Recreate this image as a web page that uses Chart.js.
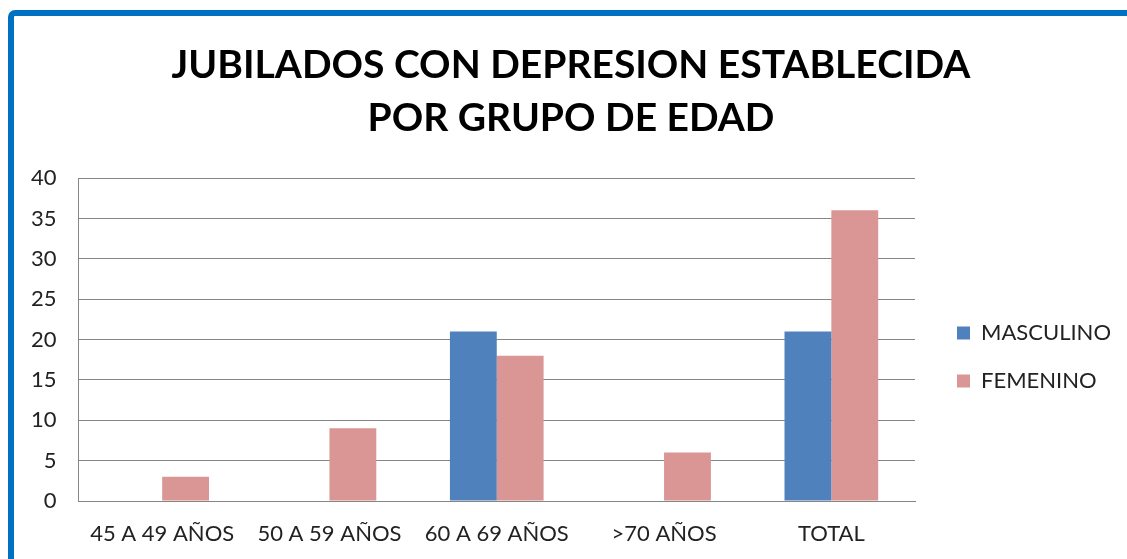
<!DOCTYPE html>
<html>
<head>
<meta charset="utf-8">
<script src="https://cdn.jsdelivr.net/npm/chart.js@4"></script>
<style>
  html, body { margin: 0; padding: 0; background: #fff; overflow: hidden; }
  #frame { position: absolute; left: 8px; top: 10px; width: 1200px; height: 700px;
           border-left: 6px solid #0070C0; border-top: 6px solid #0070C0;
           border-top-left-radius: 7px; }
  #wrap { position: absolute; left: 0; top: 0; width: 1127px; height: 559px; }
</style>
</head>
<body>
<div id="frame"></div>
<div id="wrap"><canvas id="c"></canvas></div>
<script>
"use strict";
const categories = ["45 A 49 AÑOS", "50 A 59 AÑOS", "60 A 69 AÑOS", ">70 AÑOS", "TOTAL"];
const masculino = [0, 0, 21, 0, 21];
const femenino = [3, 9, 18, 6, 36];
const yTicks = [0, 5, 10, 15, 20, 25, 30, 35, 40];

const font = "Lato, 'Open Sans', sans-serif";

// nudge the legend and title to where the original puts them
const nudge = {
  id: "nudge",
  afterLayout(chart) {
    const lg = chart.legend;
    lg.left += 16; lg.right += 16;
    lg.top += 63; lg.bottom += 63;
    const t = chart.titleBlock;
    t.left += 14; t.right += 14;
  }
};

new Chart(document.getElementById("c").getContext("2d"), {
  type: "bar",
  data: {
    labels: categories,
    datasets: [
      { label: "MASCULINO", data: masculino, backgroundColor: "#4F81BD", borderWidth: 0 },
      { label: "FEMENINO", data: femenino, backgroundColor: "#D99694", borderWidth: 0 }
    ]
  },
  plugins: [nudge],
  options: {
    responsive: true,
    maintainAspectRatio: false,
    animation: false,
    layout: { padding: { left: 9, right: 22, top: 39, bottom: 10 } },
    datasets: { bar: { categoryPercentage: 0.56, barPercentage: 1.0 } },
    plugins: {
      title: {
        display: true,
        text: ["JUBILADOS CON DEPRESION ESTABLECIDA", "POR GRUPO DE EDAD"],
        color: "#000",
        font: { family: font, size: 39, weight: "bold", lineHeight: 1.36 },
        padding: { top: 0, bottom: 33 }
      },
      legend: {
        position: "right",
        labels: {
          color: "#222",
          font: { family: font, size: 22 },
          boxWidth: 13,
          boxHeight: 13,
          padding: 26
        }
      },
      tooltip: { enabled: false }
    },
    scales: {
      x: {
        afterFit: axis => { axis.height = 48; },
        grid: { display: false, drawTicks: false },
        border: { color: "#868686", width: 1 },
        ticks: { color: "#222", font: { family: font, size: 22 }, padding: 20 }
      },
      y: {
        min: 0,
        max: 40,
        afterBuildTicks: axis => { axis.ticks = yTicks.map(v => ({ value: v })); },
        grid: { color: "#868686", drawTicks: false },
        border: { color: "#868686", width: 1 },
        ticks: { color: "#222", font: { family: font, size: 22 }, padding: 22 }
      }
    }
  }
});
</script>
</body>
</html>
